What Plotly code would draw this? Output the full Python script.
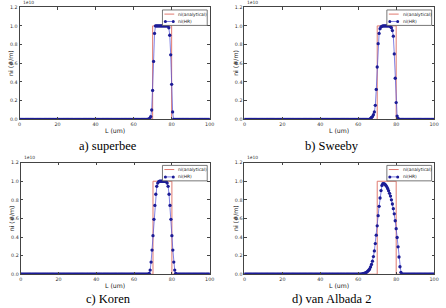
import plotly.graph_objects as go

W, H = 446, 308

# ---------------- data (ni in units of 1e10 #/m) ----------------
dx = 0.5
n_points = 201
L_grid = [round(i * dx, 1) for i in range(n_points)]

analytical_x = [0, 70, 70, 80, 80, 100]
analytical_y = [0, 0, 1.0, 1.0, 0, 0]

superbee_start = 68.0
superbee_vals = [0.005, 0.01, 0.03, 0.10, 0.31, 0.62, 0.92,
                 1.0, 1.0, 1.0, 1.0, 1.0, 1.0, 1.0, 1.0, 1.0, 1.0, 1.0, 1.0, 1.0, 1.0,
                 0.98, 0.90, 0.69, 0.375, 0.08]

sweeby_start = 66.5
sweeby_vals = [0.01, 0.02, 0.03, 0.05, 0.08, 0.15, 0.32, 0.56, 0.81, 0.92, 0.97, 0.99, 0.995,
               1.0, 1.0, 1.0, 1.0, 1.0, 1.0, 1.0, 1.0,
               0.99, 0.98, 0.95, 0.89, 0.70, 0.44, 0.18, 0.035, 0.01]

koren_start = 68.0
koren_vals = [0.01, 0.045, 0.13, 0.26, 0.415, 0.59, 0.74, 0.86, 0.945, 0.98, 0.995,
              1.0, 1.0, 1.0, 1.0, 1.0, 1.0, 1.0,
              0.995, 0.98, 0.945, 0.86, 0.74, 0.59, 0.415, 0.26, 0.13, 0.045, 0.01]

vanalbada_start = 62.0
vanalbada_vals = [0.003, 0.005, 0.008, 0.012, 0.017, 0.023, 0.032, 0.043, 0.056, 0.078,
                  0.105, 0.14, 0.19, 0.25, 0.33, 0.42, 0.52, 0.63, 0.73, 0.82, 0.90,
                  0.955, 0.975, 0.975, 0.968, 0.957, 0.943, 0.922, 0.898, 0.87, 0.84,
                  0.80, 0.755, 0.705, 0.65, 0.575, 0.49, 0.395, 0.295, 0.185, 0.08, 0.02]

captions = ["a) superbee", "b) Sweeby", "c) Koren", "d) van Albada 2"]
legend_labels = ["ni(analytical)", "ni(HR)"]
x_ticks = [0, 20, 40, 60, 80, 100]
y_ticks = [0.0, 0.2, 0.4, 0.6, 0.8, 1.0, 1.2]


def on_grid(start, vals):
    y = [0.0] * n_points
    i0 = int(round(start / dx))
    for k, v in enumerate(vals):
        y[i0 + k] = v
    return y


series = [on_grid(superbee_start, superbee_vals),
          on_grid(sweeby_start, sweeby_vals),
          on_grid(koren_start, koren_vals),
          on_grid(vanalbada_start, vanalbada_vals)]

# ---------------- layout geometry (pixels) ----------------
# (left, right, top, bottom) of each axes box
boxes = [(17.8, 211.0, 5.3, 119.3),
         (246.3, 439.0, 5.3, 119.3),
         (19.0, 211.0, 163.3, 276.7),
         (246.3, 439.0, 163.3, 276.7)]
caption_pos = [(107.5, 146), (335.5, 146), (108.5, 301.5), (335.5, 301.5)]

RED = "#e07a70"
BLUE_LINE = "#4a4ad8"
BLUE_MK = "#1c1c96"
AX = "#444444"


def px(x):
    return x / W


def py(y):
    return 1 - y / H


fig = go.Figure()
annotations = []
shapes = []
layout_axes = {}

for i in range(4):
    xa = "x" if i == 0 else f"x{i+1}"
    ya = "y" if i == 0 else f"y{i+1}"
    l, r, t, b = boxes[i]
    fig.add_trace(go.Scatter(x=analytical_x, y=analytical_y, mode="lines",
                             line=dict(color=RED, width=1), xaxis=xa, yaxis=ya,
                             showlegend=False))
    fig.add_trace(go.Scatter(x=L_grid, y=series[i], mode="lines+markers",
                             line=dict(color=BLUE_LINE, width=0.7),
                             marker=dict(color=BLUE_MK, size=3.3, line=dict(width=0)),
                             xaxis=xa, yaxis=ya, showlegend=False))
    common = dict(showline=True, mirror="ticks", linecolor=AX, linewidth=1,
                  ticks="inside", ticklen=2.5, tickcolor=AX, tickwidth=0.8,
                  showgrid=False, zeroline=False,
                  tickfont=dict(family="DejaVu Sans", size=4.8, color="#333333"))
    layout_axes["xaxis" if i == 0 else f"xaxis{i+1}"] = dict(
        domain=[px(l), px(r)], range=[0, 100], tickvals=x_ticks,
        anchor=ya, **common)
    layout_axes["yaxis" if i == 0 else f"yaxis{i+1}"] = dict(
        domain=[py(b), py(t)], range=[0, 1.2], tickvals=y_ticks, tickformat=".1f",
        anchor=xa, **common)

    # exponent label
    annotations.append(dict(x=px(l + 1), y=py(t - 0.5), xref="paper", yref="paper",
                            text="1e10", showarrow=False, xanchor="left", yanchor="bottom",
                            font=dict(family="DejaVu Sans", size=4.4, color="#333333")))
    # axis titles
    annotations.append(dict(x=px((l + r) / 2), y=py(b + 11), xref="paper", yref="paper",
                            text="L (um)", showarrow=False, xanchor="center", yanchor="middle",
                            font=dict(family="DejaVu Sans", size=6.2, color="#222222")))
    annotations.append(dict(x=px(l - 9), y=py((t + b) / 2), xref="paper", yref="paper",
                            text="ni (#/m)", showarrow=False, textangle=-90,
                            xanchor="center", yanchor="middle",
                            font=dict(family="DejaVu Sans", size=6.2, color="#222222")))
    # caption
    cx, cy = caption_pos[i]
    annotations.append(dict(x=px(cx), y=py(cy), xref="paper", yref="paper",
                            text=captions[i], showarrow=False, xanchor="center", yanchor="middle",
                            font=dict(family="Liberation Serif", size=12.5, color="#000000")))

    # manual legend box (upper right)
    bl, br, bt, bb = r - 48, r - 2.5, t + 2.8, t + 18.5
    shapes.append(dict(type="rect", xref="paper", yref="paper",
                       x0=px(bl), x1=px(br), y0=py(bb), y1=py(bt),
                       line=dict(color="#555555", width=0.8), fillcolor="white", layer="above"))
    y1e, y2e = t + 7.0, t + 14.5
    shapes.append(dict(type="line", xref="paper", yref="paper",
                       x0=px(bl + 2), x1=px(bl + 12), y0=py(y1e), y1=py(y1e),
                       line=dict(color=RED, width=1), layer="above"))
    shapes.append(dict(type="line", xref="paper", yref="paper",
                       x0=px(bl + 2), x1=px(bl + 12), y0=py(y2e), y1=py(y2e),
                       line=dict(color=BLUE_LINE, width=0.7), layer="above"))
    for mx in (bl + 3, bl + 11):
        shapes.append(dict(type="circle", xref="paper", yref="paper",
                           xsizemode="pixel", ysizemode="pixel",
                           xanchor=px(mx), yanchor=py(y2e),
                           x0=-1.5, x1=1.5, y0=-1.5, y1=1.5,
                           fillcolor=BLUE_MK, line=dict(width=0), layer="above"))
    for lab, yy in zip(legend_labels, (y1e, y2e)):
        annotations.append(dict(x=px(bl + 14), y=py(yy), xref="paper", yref="paper",
                                text=lab, showarrow=False, xanchor="left", yanchor="middle",
                                font=dict(family="DejaVu Sans", size=4.4, color="#222222")))

fig.update_layout(width=W, height=H, margin=dict(l=0, r=0, t=0, b=0),
                  paper_bgcolor="white", plot_bgcolor="white",
                  showlegend=False, annotations=annotations, shapes=shapes,
                  **layout_axes)

fig.write_html("out.html")
